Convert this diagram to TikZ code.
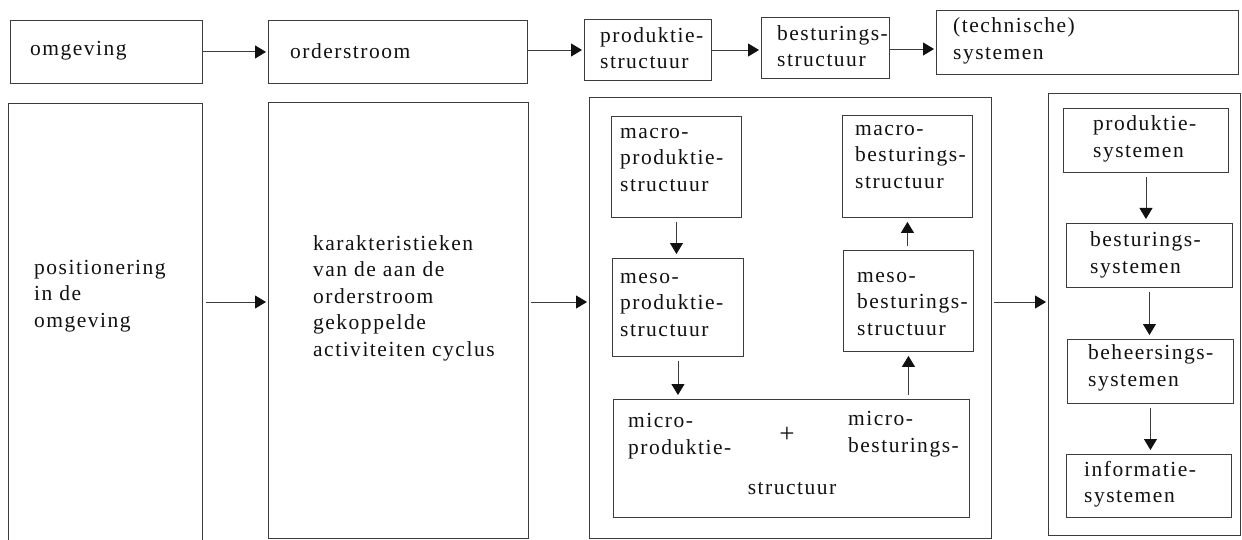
\documentclass[tikz,border=0pt]{standalone}
\usepackage{fontspec}
\setmainfont[LetterSpace=7]{Liberation Serif}
\usetikzlibrary{arrows.meta}
\definecolor{linegray}{HTML}{3C3C3C}
\definecolor{ink}{HTML}{111111}
% rectangle node from its top-left (x1,y1) to bottom-right (x2,y2), units = px
\newcommand\blok[5]{\node[frame, minimum width={#4-#2}, minimum height={#5-#3}] (#1) at (#2,#3) {};}
\begin{document}
\begin{tikzpicture}[x=1pt,y=-1pt,
  frame/.style={draw=linegray, line width=0.9pt, inner sep=0pt, anchor=north west},
  lbl/.style={anchor=west, align=left, inner sep=0pt, text=ink,
    font=\fontsize{21.5}{26.5}\selectfont},
  flow/.style={draw=linegray, line width=0.9pt,
    -{Triangle[length=11pt,width=13pt,color=ink]}, shorten >=2pt},
  vflow/.style={flow, shorten <=4pt, shorten >=4pt}]
\useasboundingbox (0,0) rectangle (1242,540);
\fill[white] (0,0) rectangle (1242,540);

% ---- top row: the chain of aspects
\blok{omg}{10}{20}{202}{83}
\blok{ord}{268}{20}{527}{83}
\blok{prod}{584}{19}{711}{80}
\blok{best}{761}{17}{889}{78}
\blok{tech}{936}{10}{1238}{74}

\node[lbl] (tOmg)  at (30,51)  {omgeving};
\node[lbl] (tOrd)  at (290,51) {orderstroom};
\node[lbl] (tProd) at (600,48) {produktie-\\structuur};
\node[lbl] (tBest) at (777,46) {besturings-\\structuur};
\node[lbl] (tTech) at (953,41) {(technische)\\systemen};

\draw[flow] (omg.east) -- (omg.east -| ord.west);
\draw[flow] (ord.east |- 0,50) -- (prod.west |- 0,50);
\draw[flow] (prod.east |- 0,50) -- (best.west |- 0,50);
\draw[flow] (best.east |- 0,49) -- (tech.west |- 0,49);

% ---- bottom row: the elaborations
\blok{pos}{8}{103}{202}{548}
\blok{kar}{268}{102}{528}{538}
\blok{struct}{589}{97}{991}{538}
\blok{sys}{1048}{93}{1240}{535}

\coordinate (row) at (0,302);
\node[lbl] (tPos) at (34,296) {positionering\\in de\\omgeving};
\node[lbl] (tKar) at (313,298) {karakteristieken\\van de aan de\\orderstroom\\gekoppelde\\activiteiten cyclus};

\draw[flow, shorten <=3pt] (pos.east |- row) -- (kar.west |- row);
\draw[flow, shorten <=2pt] (kar.east |- row) -- (struct.west |- row);
\draw[flow, shorten <=2pt] (struct.east |- row) -- (sys.west |- row);

% ---- structure levels
\blok{maP}{611}{116}{741}{217}
\blok{meP}{612}{258}{743}{356}
\blok{mic}{613}{399}{969}{517}
\blok{meB}{843}{250}{973}{351}
\blok{maB}{842}{115}{972}{217}

\node[lbl] (tMaP) at (620,160) {macro-\\produktie-\\structuur};
\node[lbl] (tMeP) at (620,305) {meso-\\produktie-\\structuur};
\node[lbl] (tMaB) at (855,157) {macro-\\besturings-\\structuur};
\node[lbl] (tMeB) at (857,304) {meso-\\besturings-\\structuur};
\node[lbl] (tMicP) at (628,436) {micro-\\produktie-};
\node[lbl, anchor=center, font=\fontsize{27}{30}\selectfont] (tPlus) at (787,435) {+};
\node[lbl] (tMicB) at (848,434) {micro-\\besturings-};
\node[lbl, anchor=center] (tMicS) at (792,489) {structuur};

\draw[vflow] (maP.south) -- (maP.south |- meP.north);
\draw[vflow] (meP.south) -- (meP.south |- mic.north);
\draw[vflow] (meB.south |- mic.north) -- (meB.south);
\draw[vflow] (maB.south |- meB.north) -- (maB.south);

% ---- systems
\blok{sP}{1063}{108}{1228}{172}
\blok{sB}{1066}{223}{1232}{287}
\blok{sH}{1067}{339}{1233}{403}
\blok{sI}{1066}{454}{1231}{517}

\node[lbl] (tsP) at (1093,139) {produktie-\\systemen};
\node[lbl] (tsB) at (1090,255) {besturings-\\systemen};
\node[lbl] (tsH) at (1088,368) {beheersings-\\systemen};
\node[lbl] (tsI) at (1084,484) {informatie-\\systemen};

\draw[vflow] (sP.south) -- (sP.south |- sB.north);
\draw[vflow] (sB.south) -- (sB.south |- sH.north);
\draw[vflow] (sH.south) -- (sH.south |- sI.north);
\end{tikzpicture}
\end{document}
